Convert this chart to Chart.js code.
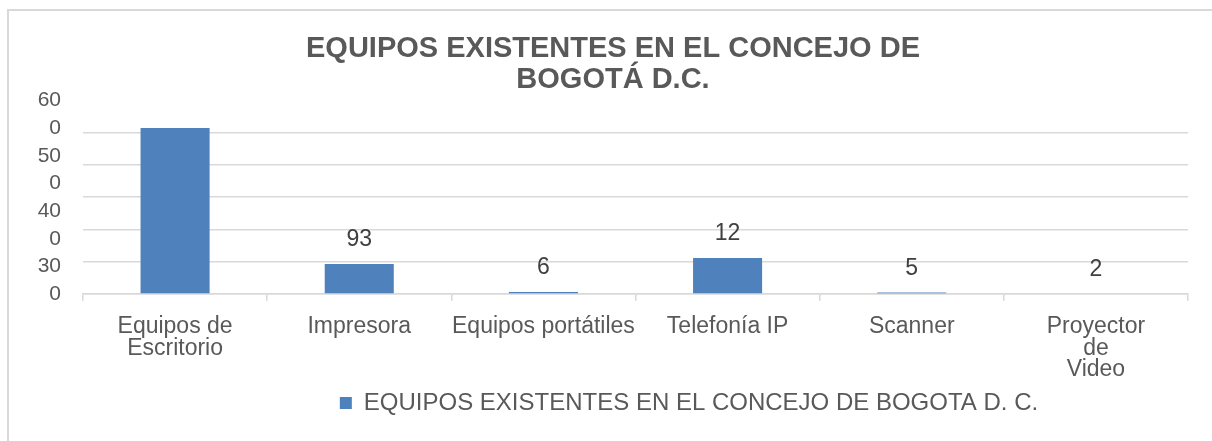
<!DOCTYPE html>
<html>
<head>
<meta charset="utf-8">
<script src="https://cdn.jsdelivr.net/npm/chart.js@4/dist/chart.umd.min.js"></script>
<style>
  html, body { margin:0; padding:0; background:#fff; overflow:hidden; }
  #frame { position:absolute; left:7px; top:9px; width:1230px; height:460px; border:2px solid #d9d9d9; }
  #chart { position:absolute; left:0; top:0; }
</style>
</head>
<body>
<div id="frame"></div>
<canvas id="chart" width="1212" height="441"></canvas>
<script>
// ── DATA ──
const categories = [
  ['Equipos de', 'Escritorio'],
  'Impresora',
  'Equipos portátiles',
  'Telefonía IP',
  'Scanner',
  ['Proyector', 'de', 'Video'],
];
const values    = [515, 93, 6, 112, 5, 2];
const barLabels = ['', '93', '6', '12', '5', '2'];
// left-hand labels as printed, bottom to top
const yTickText = ['0', '30', '0', '40', '0', '50', '0', '60'];
const seriesName = 'EQUIPOS EXISTENTES EN EL CONCEJO DE BOGOTA D. C.';
const titleLines = ['EQUIPOS EXISTENTES EN EL CONCEJO DE', 'BOGOTÁ D.C.'];

const FONT = "'Liberation Sans', Arial, sans-serif";
const TEXT = '#595959';
const GRID = '#d9d9d9';
const BAR  = '#4f81bd';

// ── PLUGINS ──
const barValueLabels = {
  id: 'barValueLabels',
  afterDatasetsDraw(chart) {
    const ctx = chart.ctx;
    const meta = chart.getDatasetMeta(0);
    ctx.save();
    ctx.font = '23px ' + FONT;
    ctx.fillStyle = '#404040';
    ctx.textAlign = 'center';
    ctx.textBaseline = 'middle';
    meta.data.forEach((bar, i) => {
      if (barLabels[i]) ctx.fillText(barLabels[i], bar.x, bar.y - 24);
    });
    ctx.restore();
  }
};

const legendShift = {
  id: 'legendShift',
  afterLayout(chart) { if (chart.legend) chart.legend.left += 152; }
};

// ── CHART ──
new Chart(document.getElementById('chart'), {
  type: 'bar',
  data: {
    labels: categories,
    datasets: [{
      label: seriesName,
      data: values,
      backgroundColor: BAR,
      borderWidth: 0,
      categoryPercentage: 0.75,
      barPercentage: 0.5,
    }]
  },
  options: {
    responsive: false,
    animation: false,
    layout: { padding: { left: 38, right: 24, top: 5, bottom: 16 } },
    scales: {
      x: {
        grid: { offset: true, drawOnChartArea: false, drawTicks: true, tickLength: 7, color: GRID, lineWidth: 1.5 },
        border: { display: true, color: GRID, width: 1.5 },
        ticks: { color: TEXT, font: { family: FONT, size: 23, lineHeight: 0.94 }, padding: 15, maxRotation: 0, autoSkip: false },
        afterFit: s => { s.height = 87; },
      },
      y: {
        min: 0, max: 600,
        ticks: { stepSize: 100, display: false },
        grid: { drawTicks: false, lineWidth: 1.5, color: c => c.tick && c.tick.value === 600 ? 'rgba(0,0,0,0)' : GRID },
        border: { display: false },
        afterFit: s => { s.width = 0; },
      },
      yText: {
        type: 'linear', position: 'left',
        min: 0, max: 7,
        ticks: { stepSize: 1, autoSkip: false, color: TEXT, font: { family: FONT, size: 21 }, padding: 22, callback: v => yTickText[v] },
        grid: { display: false, drawTicks: false },
        border: { display: false },
        afterFit: s => { s.width = 45; },
      },
    },
    plugins: {
      title: {
        display: true,
        text: titleLines,
        color: TEXT,
        font: { family: FONT, size: 29, weight: 'bold', lineHeight: 1.06 },
        padding: { top: 29, bottom: 5 },
      },
      legend: {
        position: 'bottom',
        labels: { color: TEXT, boxWidth: 12, boxHeight: 12, font: { family: FONT, size: 24 }, padding: 10 },
      },
      tooltip: { enabled: false },
    }
  },
  plugins: [barValueLabels, legendShift]
});
</script>
</body>
</html>
